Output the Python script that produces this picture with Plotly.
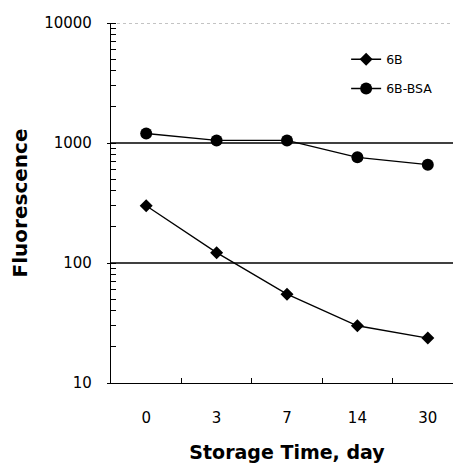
import plotly.graph_objects as go

days = ["0", "3", "7", "14", "30"]
b6 = [300, 122, 55, 30, 23.7]
b6_bsa = [1200, 1050, 1050, 760, 660]
y_ticks = [10, 100, 1000, 10000]
grid_vals = [100, 1000]

fig = go.Figure()
fig.add_trace(go.Scatter(x=days, y=b6, name="6B", mode="lines+markers", legendgroup="a",
                         line=dict(color="black", width=1.3),
                         marker=dict(symbol="diamond", size=10, color="black")))
fig.add_trace(go.Scatter(x=days, y=b6_bsa, name="6B-BSA", mode="lines+markers", legendgroup="b",
                         line=dict(color="black", width=1.3),
                         marker=dict(symbol="circle", size=12, color="black")))

for g in grid_vals:
    fig.add_shape(type="line", xref="paper", x0=0, x1=1, yref="y", y0=g, y1=g,
                  line=dict(color="black", width=1.5), layer="below")
fig.add_shape(type="line", xref="paper", x0=0, x1=1, yref="y", y0=10000, y1=10000,
              line=dict(color="#888", width=1, dash="dot"), layer="below")

fig.update_layout(
    width=461, height=463,
    margin=dict(l=102, r=6, t=13, b=88),
    plot_bgcolor="white", paper_bgcolor="white",
    font=dict(family="DejaVu Sans, sans-serif", color="black"),
    showlegend=True,
    legend=dict(x=0.668, y=0.94, xanchor="left", yanchor="top",
                font=dict(size=12.5), bgcolor="rgba(0,0,0,0)",
                itemwidth=30, tracegroupgap=10, traceorder="grouped"),
)
fig.update_xaxes(
    type="category", range=[-0.5, 4.5],
    showline=True, linecolor="black", linewidth=1.2,
    ticks="inside", tickson="boundaries", ticklen=5, tickcolor="black",
    tickfont=dict(size=15), ticklabelstandoff=21, showgrid=False, zeroline=False,
    title=dict(text="<b>Storage Time, day</b>", font=dict(size=19), standoff=19),
)
fig.update_yaxes(
    type="log", range=[1, 4],
    tickvals=y_ticks, ticktext=[str(v) for v in y_ticks],
    showline=True, linecolor="black", linewidth=1.2,
    ticks="outside", ticklen=3, tickcolor="black",
    minor=dict(ticks="inside", ticklen=5, tickcolor="black", dtick="D1", showgrid=False),
    tickfont=dict(size=15), ticklabelstandoff=12, showgrid=False, zeroline=False,
    title=dict(text="<b>Fluorescence</b>", font=dict(size=20), standoff=16),
)
fig.write_html("out.html")
